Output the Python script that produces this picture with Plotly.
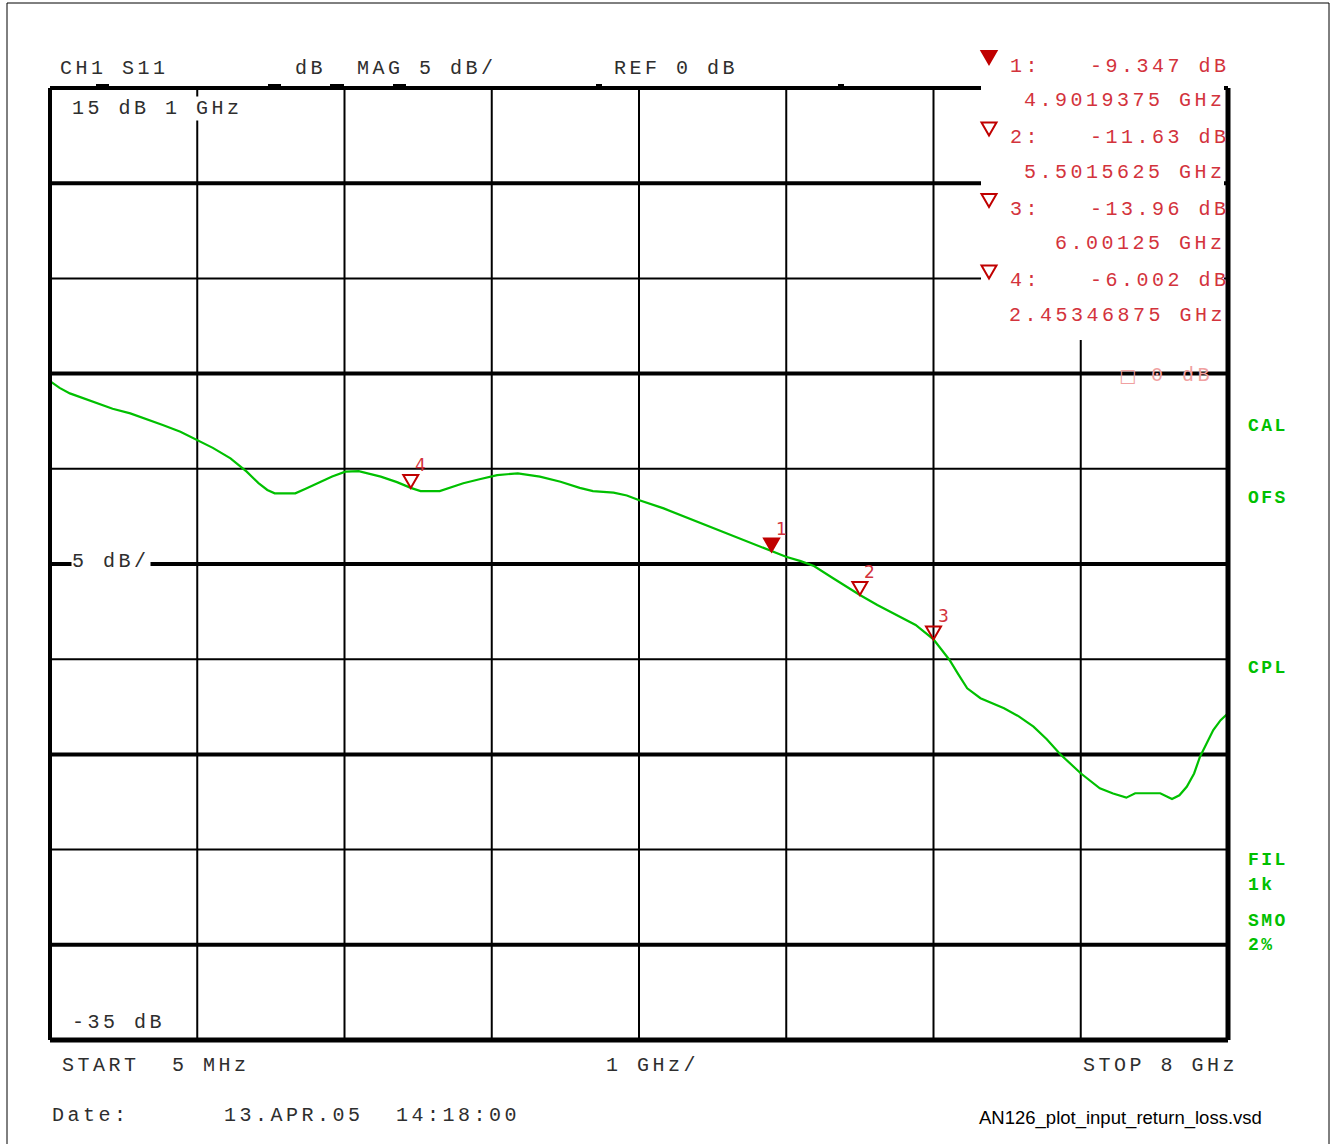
import plotly.graph_objects as go

# ---- S11 sweep: frequency (GHz) and return loss magnitude (dB) ----
freq_ghz = [0.005, 0.07, 0.14, 0.23, 0.32, 0.43, 0.55, 0.66, 0.77, 0.89,
            1.00, 1.11, 1.23, 1.34, 1.42, 1.48, 1.53, 1.67, 1.74, 1.82,
            1.92, 2.01, 2.10, 2.25, 2.36, 2.45346875, 2.52, 2.65, 2.72, 2.81,
            2.92, 3.04, 3.18, 3.33, 3.47, 3.60, 3.69, 3.83, 3.92, 4.00,
            4.17, 4.40, 4.62, 4.78, 4.9019375, 5.00, 5.10, 5.19, 5.32, 5.5015625,
            5.62, 5.75, 5.88, 6.00125, 6.11, 6.17, 6.23, 6.32, 6.48, 6.58,
            6.68, 6.77, 6.86, 7.00, 7.13, 7.22, 7.31, 7.37, 7.54, 7.62,
            7.67, 7.72, 7.77, 7.81, 7.86, 7.90, 7.95, 8.00]
s11_db = [-0.40, -0.75, -1.04, -1.30, -1.56, -1.85, -2.09, -2.38, -2.70, -3.05,
          -3.49, -3.90, -4.45, -5.15, -5.75, -6.11, -6.29, -6.29, -6.05, -5.76,
          -5.40, -5.15, -5.12, -5.41, -5.70, -6.002, -6.17, -6.17, -6.00, -5.76,
          -5.55, -5.33, -5.24, -5.41, -5.68, -6.00, -6.17, -6.25, -6.40, -6.64,
          -7.08, -7.78, -8.48, -8.95, -9.347, -9.62, -9.85, -10.11, -10.75, -11.63,
          -12.15, -12.68, -13.20, -13.96, -15.04, -15.80, -16.53, -17.05, -17.58, -18.00,
          -18.54, -19.20, -19.98, -20.99, -21.78, -22.05, -22.27, -22.04, -22.04, -22.34,
          -22.15, -21.70, -21.00, -20.12, -19.30, -18.72, -18.20, -17.84]

# ---- sweep / scale settings ----
start_ghz, stop_ghz = 0.005, 8.0
top_db, bottom_db, db_per_div = 15, -35, 5
n_xdiv = 8

# ---- markers ----
marker_ids = [1, 2, 3, 4]
marker_freq_ghz = [4.9019375, 5.5015625, 6.00125, 2.45346875]
marker_db = [-9.347, -11.63, -13.96, -6.002]
marker_active = [True, False, False, False]

# ---- side status labels ----
status_labels = ["CAL", "OFS", "CPL", "FIL", "1k", "SMO", "2%"]
status_rows_px = [426, 498, 668, 860, 885, 921, 945]

# ---- page geometry (plot area in pixels) ----
W, H = 1331, 1144
L, R, T, B = 50, 1228, 88, 1040

MONO = "Liberation Mono"
GRAY = "#2e2e2e"
RED_TXT = "#d3333c"
RED_MK = "#c00000"
GREEN = "#00c000"
LS = 3.5


def px(x):
    return (x - L) / (R - L)


def py(y):
    return (B - y) / (B - T)


def spaced(text, ls):
    return f'<span style="letter-spacing:{ls}px">{text}</span>'


annotations = []


def label(text, x, y, xanchor="left", size=20, color=GRAY, ls=LS,
          family=MONO, bold=False, bg=None):
    t = spaced(text, ls) if ls else text
    if bold:
        t = f"<b>{t}</b>"
    a = dict(text=t, x=px(x), y=py(y), xref="paper", yref="paper",
             xanchor=xanchor, yanchor="middle", showarrow=False,
             font=dict(family=family, size=size, color=color), borderpad=0)
    if bg:
        a["bgcolor"] = bg
    annotations.append(a)


fig = go.Figure()

fig.add_trace(go.Scatter(
    x=freq_ghz, y=s11_db, mode="lines",
    line=dict(color=GREEN, width=2.2), hoverinfo="skip", showlegend=False))

shapes = []

# horizontal graticule: heavier lines on alternate divisions
h_levels = list(range(top_db, bottom_db - 1, -db_per_div))
heavy_levels = {10, 0, -10, -20, -30}
for v in h_levels[1:-1]:
    w = 4 if v in heavy_levels else 2
    shapes.append(dict(type="line", xref="x", yref="y", x0=start_ghz, x1=stop_ghz,
                       y0=v, y1=v, line=dict(color="black", width=w), layer="below"))

# vertical graticule
x_step = (stop_ghz - start_ghz) / n_xdiv
for k in range(1, n_xdiv):
    xv = start_ghz + k * x_step
    shapes.append(dict(type="line", xref="x", yref="y", x0=xv, x1=xv,
                       y0=bottom_db, y1=top_db, line=dict(color="black", width=2),
                       layer="below"))

# top and left edges of the graticule
shapes.append(dict(type="line", xref="paper", yref="paper", x0=0, x1=1, y0=1, y1=1,
                   line=dict(color="black", width=4), layer="above"))
shapes.append(dict(type="line", xref="paper", yref="paper", x0=0, x1=0, y0=0, y1=1,
                   line=dict(color="black", width=4), layer="above"))

# blank panel behind the marker readout
shapes.append(dict(type="rect", xref="paper", yref="paper",
                   x0=px(981), x1=px(1224), y0=py(340), y1=py(40),
                   fillcolor="white", line=dict(width=0), layer="above"))

# right-hand and bottom edges
shapes.append(dict(type="line", xref="paper", yref="paper", x0=1, x1=1, y0=0, y1=1,
                   line=dict(color="black", width=5), layer="above"))
shapes.append(dict(type="line", xref="paper", yref="paper", x0=0, x1=1, y0=0, y1=0,
                   line=dict(color="black", width=5), layer="above"))

# little notches on the top edge
for a, b in [(96, 109), (268, 281), (330, 344), (393, 406), (596, 602), (838, 844)]:
    shapes.append(dict(type="rect", xref="paper", yref="paper",
                       x0=px(a), x1=px(b), y0=py(88), y1=py(84),
                       fillcolor="black", line=dict(width=0), layer="above"))

# outer frame of the page
shapes.append(dict(type="rect", xref="paper", yref="paper",
                   x0=px(7), x1=px(1329), y0=py(1150), y1=py(3),
                   line=dict(color="black", width=1), layer="above"))

tri_path = "M -7.5 13 L 7.5 13 L 0 0 Z"

# marker triangles on the trace (tip sits on the marker value)
for mid, f, v, act in zip(marker_ids, marker_freq_ghz, marker_db, marker_active):
    shapes.append(dict(type="path", xref="x", yref="y",
                       xsizemode="pixel", ysizemode="pixel",
                       xanchor=f, yanchor=v, path=tri_path,
                       fillcolor=RED_MK if act else "rgba(0,0,0,0)",
                       line=dict(color=RED_MK, width=2), layer="above"))
    annotations.append(dict(text=str(mid), x=f, y=v, xref="x", yref="y",
                            xanchor="left", yanchor="bottom", xshift=2, yshift=11,
                            showarrow=False,
                            font=dict(family="DejaVu Sans", size=17, color=RED_TXT)))

# marker readout block
row0, row_step = 66, 71.5
for i, (mid, f, v, act) in enumerate(zip(marker_ids, marker_freq_ghz, marker_db, marker_active)):
    y_val = row0 + i * row_step
    y_frq = y_val + 35
    shapes.append(dict(type="path", xref="paper", yref="paper",
                       xsizemode="pixel", ysizemode="pixel",
                       xanchor=px(989), yanchor=py(y_val - 2), path=tri_path,
                       fillcolor=RED_MK if act else "rgba(0,0,0,0)",
                       line=dict(color=RED_MK, width=2), layer="above"))
    label(f"{mid}:", 1009, y_val, color=RED_TXT)
    label(f"{v:.4g} dB", 1231, y_val, xanchor="right", color=RED_TXT)
    label(f"{f} GHz", 1227, y_frq, xanchor="right", color=RED_TXT)

label("\u25a1", 1118, 375, color="#f0a0a0", ls=0, size=18, family="DejaVu Sans")
label(f"{0} dB", 1214, 375, xanchor="right", color="#f0a0a0")

# header
label("CH1 S11", 59, 68)
label("dB", 294, 68)
label(f"MAG {db_per_div} dB/", 356, 68)
label(f"REF {0} dB", 613, 68)

# scale labels inside the graticule
label(f"{top_db} dB 1 GHz", 71, 108, bg="white")
label(f"{db_per_div} dB/", 71, 561, bg="white")
label(f"{bottom_db} dB", 71, 1022)

# sweep labels
label("START", 61, 1065)
label("5 MHz", 171, 1065)
label("1 GHz/", 605, 1065)
label(f"STOP {stop_ghz:g} GHz", 1239, 1065, xanchor="right")

# footer
label("Date:", 51, 1115)
label("13.APR.05", 223, 1115)
label("14:18:00", 395, 1115)
label("AN126_plot_input_return_loss.vsd", 978, 1118, size=18.5, color="black",
      ls=0, family="Liberation Sans")

# status labels at the right
for s, yy in zip(status_labels, status_rows_px):
    label(s, 1247, yy, size=18, color=GREEN, ls=2.5, bold=True)

fig.update_layout(
    width=W, height=H, autosize=False,
    margin=dict(l=L, r=W - R, t=T, b=H - B, pad=0),
    paper_bgcolor="white", plot_bgcolor="white",
    showlegend=False,
    xaxis=dict(range=[start_ghz, stop_ghz], showgrid=False, zeroline=False,
               showticklabels=False, ticks="", showline=False, fixedrange=True),
    yaxis=dict(range=[bottom_db, top_db], showgrid=False, zeroline=False,
               showticklabels=False, ticks="", showline=False, fixedrange=True),
    shapes=shapes,
    annotations=annotations,
)

fig.write_html("out.html", config={"displayModeBar": False})
